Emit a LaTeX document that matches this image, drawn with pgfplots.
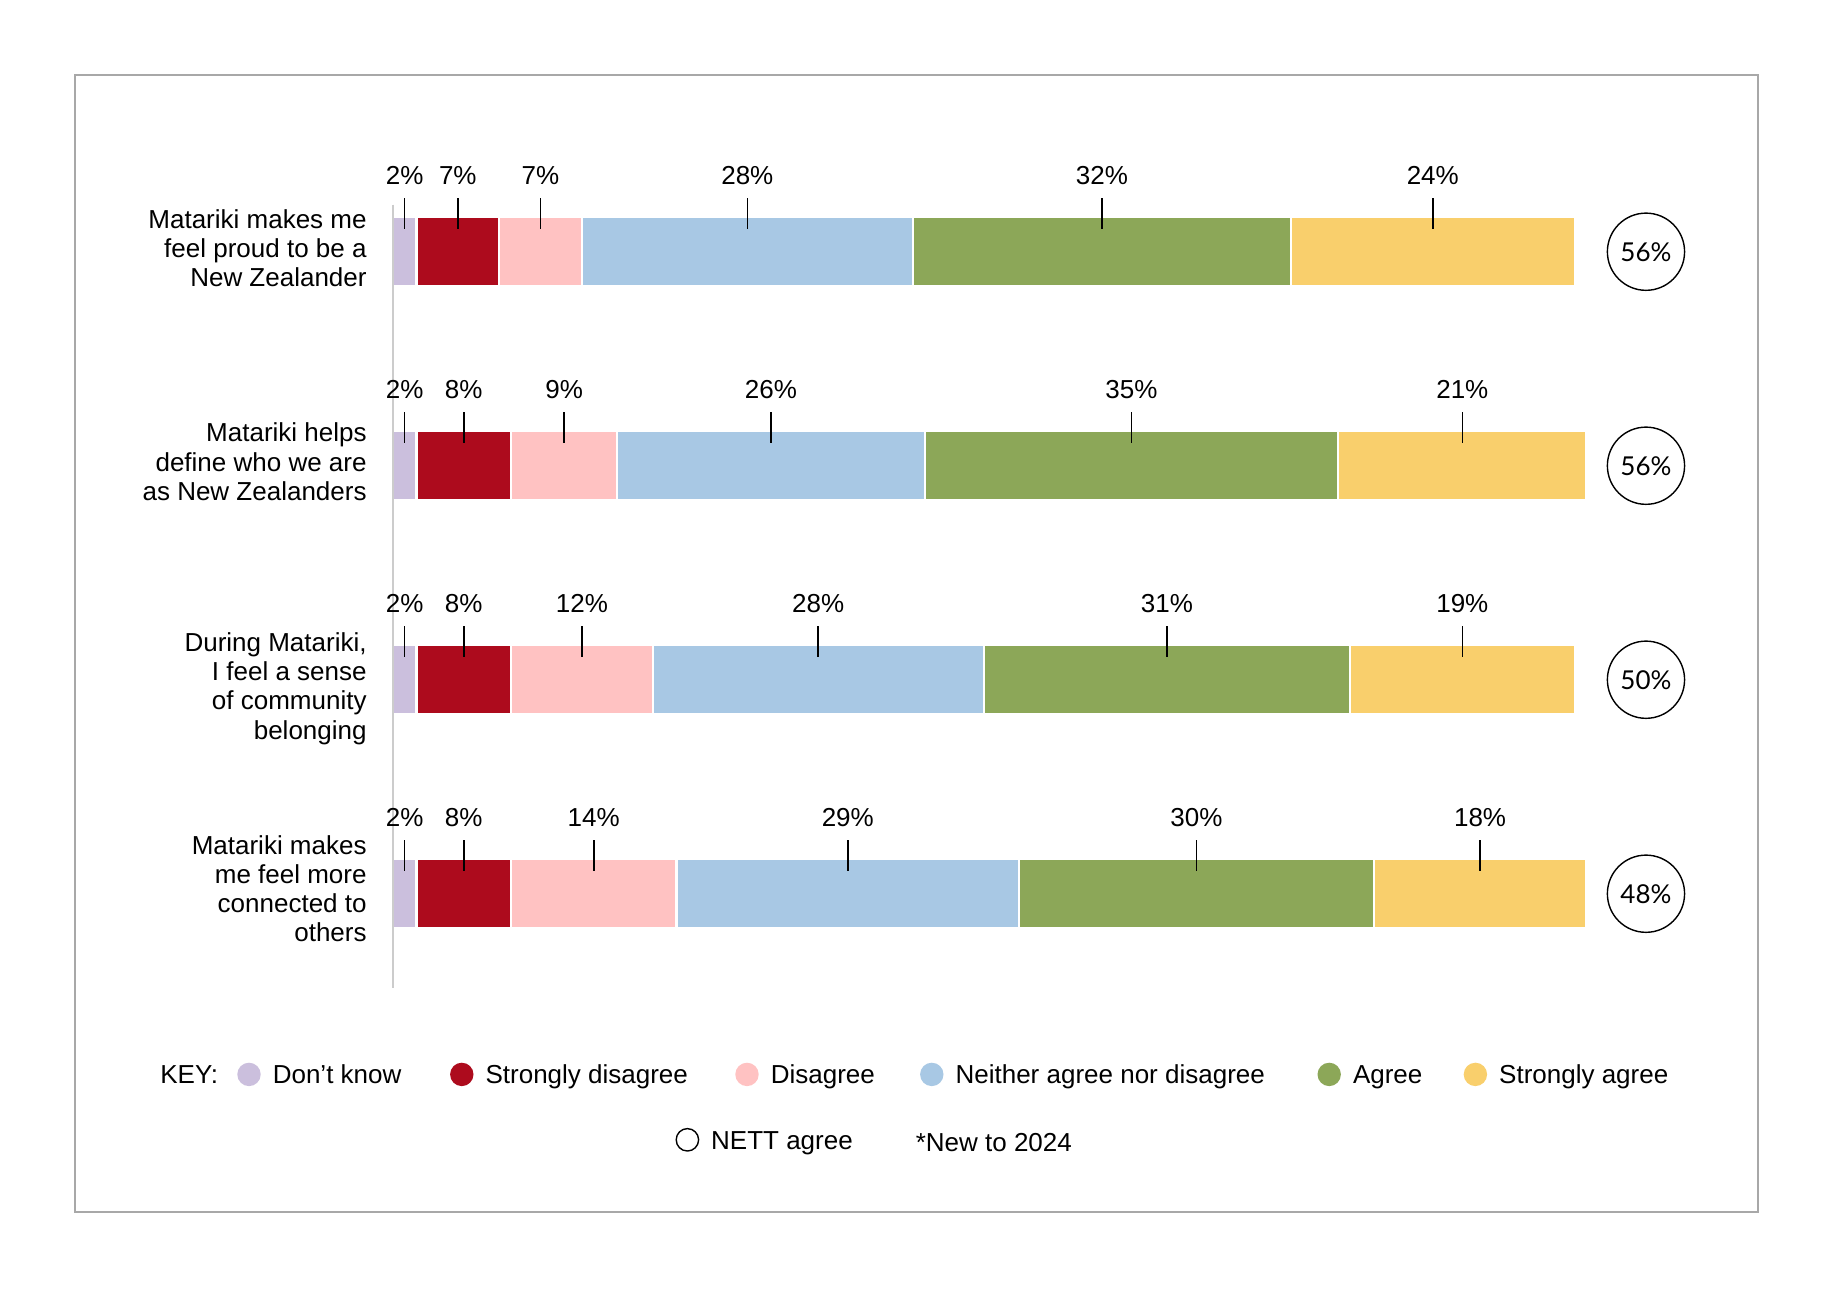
\documentclass[border=0pt]{standalone}
\usepackage{pgfplots}
\pgfplotsset{compat=1.18}
\usepackage{pgfplotstable}
\usepackage{fontspec}
\setmainfont{Liberation Sans}
\newfontfamily\circfont{Lato}

\definecolor{cDK}{HTML}{CBBFDD}
\definecolor{cSD}{HTML}{AD0B1D}
\definecolor{cDI}{HTML}{FFC2C2}
\definecolor{cNE}{HTML}{A8C8E4}
\definecolor{cAG}{HTML}{8CA758}
\definecolor{cSA}{HTML}{F9CF6C}
\definecolor{framegray}{HTML}{A8A8A8}
\definecolor{axisgray}{HTML}{CCCCCC}

% Survey responses (%), one row per statement
\pgfplotstableread{
row dk sd di ne ag sa nett
1   2  7  7  28 32 24 56
2   2  8  9  26 35 21 56
3   2  8  12 28 31 19 50
4   2  8  14 29 30 18 48
}\likert

\pgfplotsset{
  panel/.style={
    at={(196.4pt,-500.35pt)}, anchor=south west,
    scale only axis, width=590.9pt, height=428pt,
    xmin=0, xmax=100, ymin=0.5, ymax=4.5, y dir=reverse,
    hide axis, clip=false,
  },
}

\begin{document}
\fontsize{13}{14.6}\selectfont
\begin{tikzpicture}[font=\fontsize{13}{14.6}\selectfont]
% page and frame
\fill[white] (0,0) rectangle (916.5pt,-646pt);
\draw[framegray, line width=1pt] (37.4pt,-37.4pt) rectangle (879pt,-606pt);

% stacked bars
\begin{axis}[panel, xbar stacked, bar width=34.5pt,
  every axis plot/.append style={draw=white, line width=1.1pt}]
\draw[axisgray, line width=1pt] (axis cs:0,0.78) -- (axis cs:0,4.44);
\addplot[fill=cDK] table[x=dk, y=row]{\likert};
\addplot[fill=cSD] table[x=sd, y=row]{\likert};
\addplot[fill=cDI] table[x=di, y=row]{\likert};
\addplot[fill=cNE] table[x=ne, y=row]{\likert};
\addplot[fill=cAG] table[x=ag, y=row]{\likert};
\addplot[fill=cSA] table[x=sa, y=row]{\likert};
\end{axis}

% value labels, NETT circles and statements
\begin{axis}[panel]
\pgfplotsforeachungrouped \r in {0,1,2,3}{%
  \def\cum{0}%
  \pgfplotstablegetelem{\r}{row}\of\likert \edef\ry{\pgfplotsretval}%
  \pgfplotsforeachungrouped \c in {dk,sd,di,ne,ag,sa}{%
    \pgfplotstablegetelem{\r}{\c}\of\likert \edef\v{\pgfplotsretval}%
    \pgfmathsetmacro\mid{\cum+\v/2}%
    \pgfmathsetmacro\cum{\cum+\v}%
    \edef\temp{%
      \noexpand\draw[black, line width=0.8pt] ([yshift=11.5pt]axis cs:\mid,\ry) -- ([yshift=27pt]axis cs:\mid,\ry);
      \noexpand\node[anchor=center, inner sep=0pt] at ([yshift=38pt]axis cs:\mid,\ry) {\v\noexpand\%};
    }%
    \temp
  }%
}
\addplot[only marks, mark=*, mark size=19.3pt,
  mark options={draw=black, fill=white, line width=0.7pt},
  point meta=explicit,
  nodes near coords={\circfont\pgfmathprintnumber[assume math mode=true]{\pgfplotspointmeta}\%},
  nodes near coords align=center,
  every node near coord/.append style={anchor=center, inner sep=0pt, font=\fontsize{13}{14}\selectfont}]
  table[x expr=106.04, y=row, meta=nett]{\likert};

\node[anchor=east, align=right, inner sep=0pt] at ([xshift=-12.9pt, yshift=1.75pt]axis cs:0,1)
  {Matariki makes me\\feel proud to be a\\New Zealander};
\node[anchor=east, align=right, inner sep=0pt] at ([xshift=-12.9pt, yshift=2pt]axis cs:0,2)
  {Matariki helps\\define who we are\\as New Zealanders};
\node[anchor=east, align=right, inner sep=0pt] at ([xshift=-12.9pt, yshift=-4.4pt]axis cs:0,3)
  {During Matariki,\\I feel a sense\\of community\\belonging};
\node[anchor=east, align=right, inner sep=0pt] at ([xshift=-12.9pt, yshift=2.6pt]axis cs:0,4)
  {Matariki makes\\me feel more\\connected to\\others};
\end{axis}

% key
\def\ky{-537.2pt}
\def\kb{-541.8pt}
\node[anchor=base west, inner sep=0pt] at (80pt,\kb) {KEY:};
\foreach \cx/\col/\lab in {124.5/cDK/Don’t know, 230.9/cSD/Strongly disagree,
    373.5/cDI/Disagree, 465.9/cNE/Neither agree nor disagree,
    664.6/cAG/Agree, 737.7/cSA/Strongly agree}{
  \fill[\col] (\cx pt,\ky) circle (5.85pt);
  \node[anchor=base west, inner sep=0pt] at ([xshift=11.7pt]\cx pt,\kb) {\lab};
}
\draw[black, line width=0.7pt] (343.7pt,-569.9pt) circle (5.6pt);
\node[anchor=base west, inner sep=0pt] at (355.4pt,-574.5pt) {NETT agree};
\node[anchor=base west, inner sep=0pt] at (457.7pt,-575.5pt) {*New to 2024};
\end{tikzpicture}
\end{document}
